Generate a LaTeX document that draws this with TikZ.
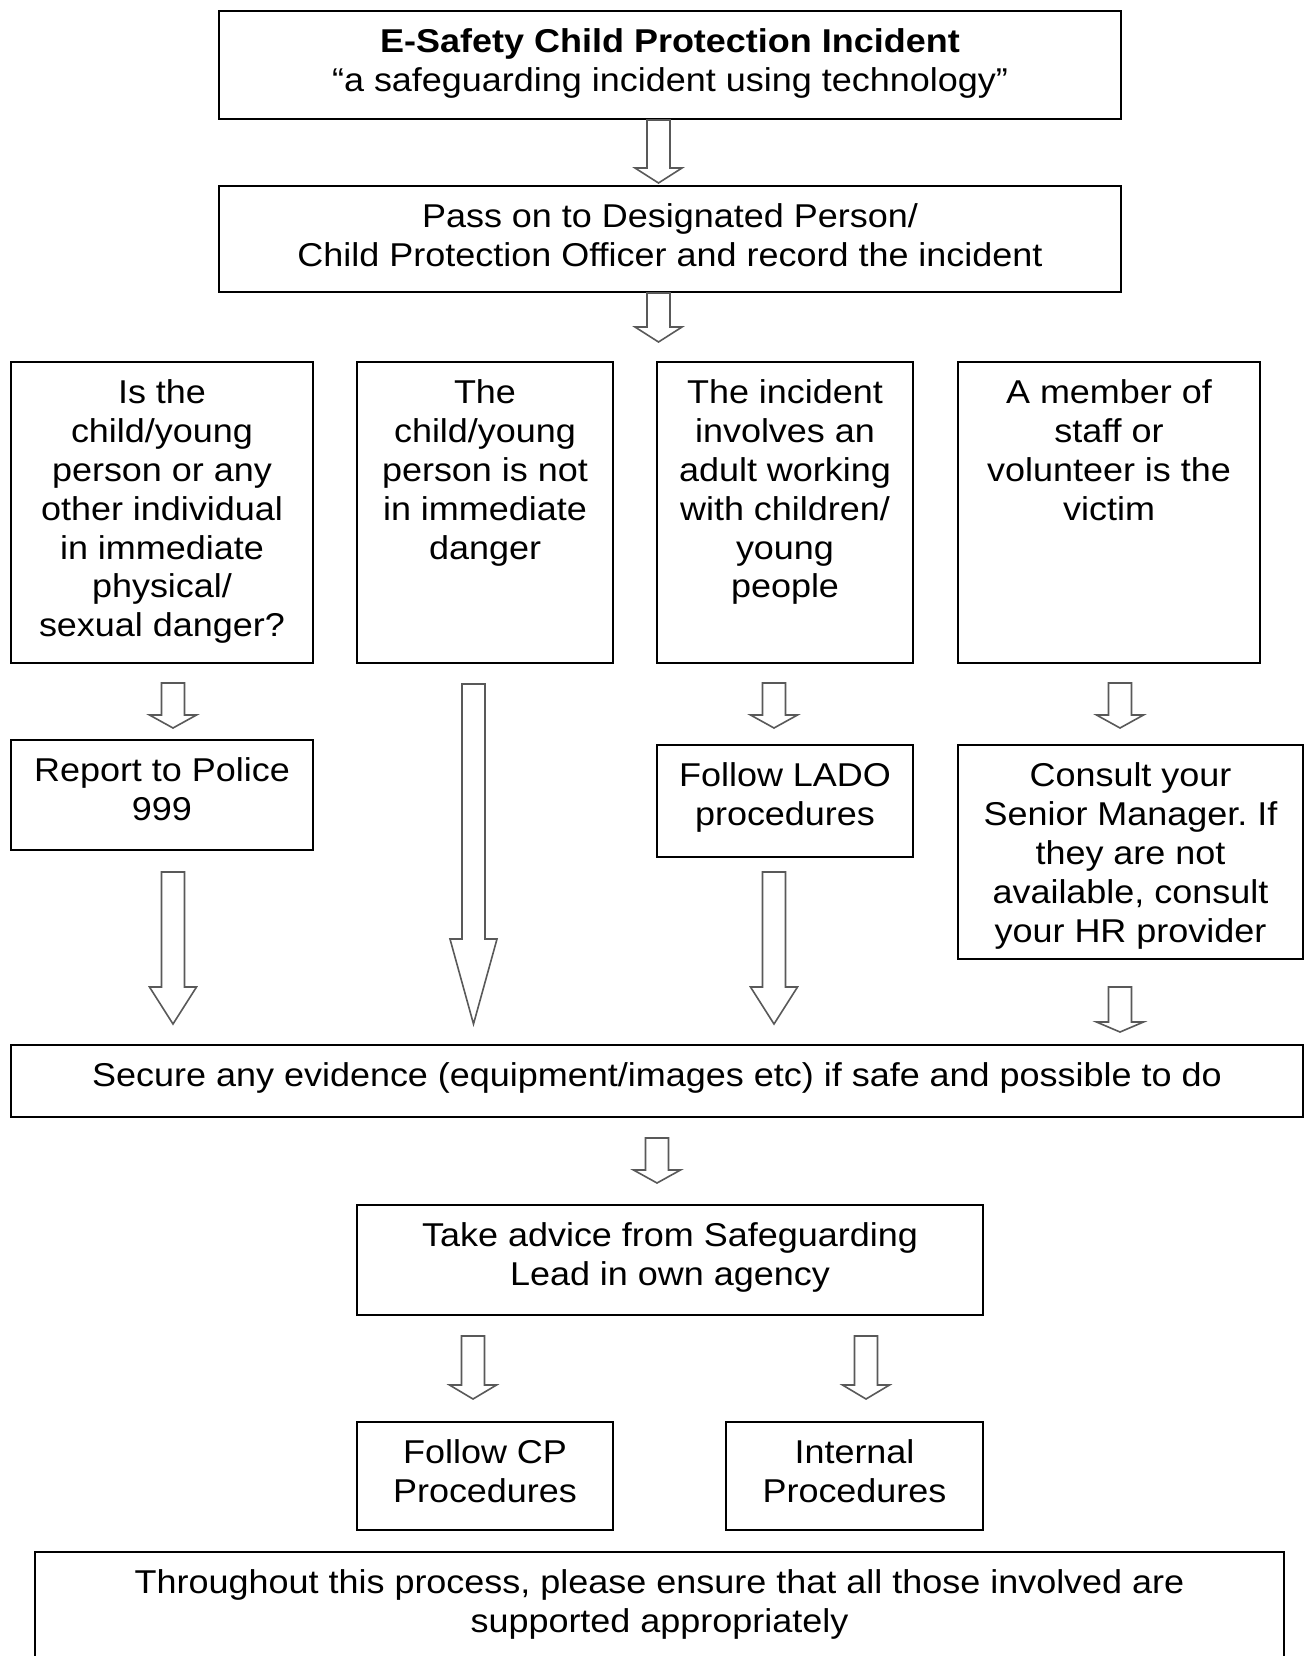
\documentclass[tikz,border=0pt]{standalone}
\usepackage{fontspec}
\setmainfont{Liberation Sans}[FakeStretch=1.09]
\frenchspacing
\tikzset{
  box/.style={draw=black, line width=1.8pt, inner sep=0pt, outer sep=0pt},
  txt/.style={align=center, inner sep=0pt, font=\fontsize{33}{38.9}\selectfont},
  barr/.style={draw=black!65, line width=1.6pt, fill=white, line join=miter},
}
\newcommand\mkbox[6]{%
  \node[box, anchor=north west, minimum width={#4-#2}, minimum height={#5-#3}] (#1) at (#2,#3) {};
  \node[txt, anchor=north] (#1t) at ([yshift=-14pt]#1.north) {\strut #6};}
\newcommand\blkarrow[4]{%
  \draw[barr] ({#1-11.5},#2) -- ({#1-11.5},#3) -- ({#1-23.5},#3) -- (#1,#4)
     -- ({#1+23.5},#3) -- ({#1+11.5},#3) -- ({#1+11.5},#2) -- cycle;}
\begin{document}
\begin{tikzpicture}[x=1pt,y=-1pt]
\clip (0,0) rectangle (1304,1656);
\fill[white] (0,0) rectangle (1304,1656);
\mkbox{T}{219}{11}{1121}{119}{{\bfseries E-Safety Child Protection Incident}\\“a safeguarding incident using technology”}
\mkbox{P}{219}{186}{1121}{292}{Pass on to Designated Person/\\Child Protection Officer and record the incident}
\mkbox{A}{11}{362}{313}{663}{Is the\\child/young\\person or any\\other individual\\in immediate\\physical/\\sexual danger?}
\mkbox{B}{357}{362}{613}{663}{The\\child/young\\person is not\\in immediate\\danger}
\mkbox{C}{657}{362}{913}{663}{The incident\\involves an\\adult working\\with children/\\young\\people}
\mkbox{D}{958}{362}{1260}{663}{A member of\\staff or\\volunteer is the\\victim}
\mkbox{R}{11}{740}{313}{850}{Report to Police\\999}
\mkbox{L}{657}{745}{913}{857}{Follow LADO\\procedures}
\mkbox{M}{958}{745}{1303}{959}{Consult your\\Senior Manager. If\\they are not\\available, consult\\your HR provider}
\mkbox{E}{11}{1045}{1303}{1117}{Secure any evidence (equipment/images etc) if safe and possible to do}
\mkbox{K}{357}{1205}{983}{1315}{Take advice from Safeguarding\\Lead in own agency}
\mkbox{F}{357}{1422}{613}{1530}{Follow CP\\Procedures}
\mkbox{I}{726}{1422}{983}{1530}{Internal\\Procedures}
\mkbox{S}{35}{1552}{1284}{1720}{Throughout this process, please ensure that all those involved are\\supported appropriately}
% block arrows
\blkarrow{658.5}{120}{168}{183}
\blkarrow{658.5}{293}{327}{342}
\blkarrow{173}{683}{715}{728}
\blkarrow{774}{683}{715}{728}
\blkarrow{1120}{683}{715}{728}
\blkarrow{173}{872}{987}{1024}
\blkarrow{473.5}{684}{939}{1024}
\blkarrow{774}{872}{987}{1024}
\blkarrow{1120}{987}{1022}{1032}
\blkarrow{657}{1138}{1170}{1183}
\blkarrow{473}{1336}{1385}{1399}
\blkarrow{866}{1336}{1385}{1399}
\end{tikzpicture}
\end{document}
